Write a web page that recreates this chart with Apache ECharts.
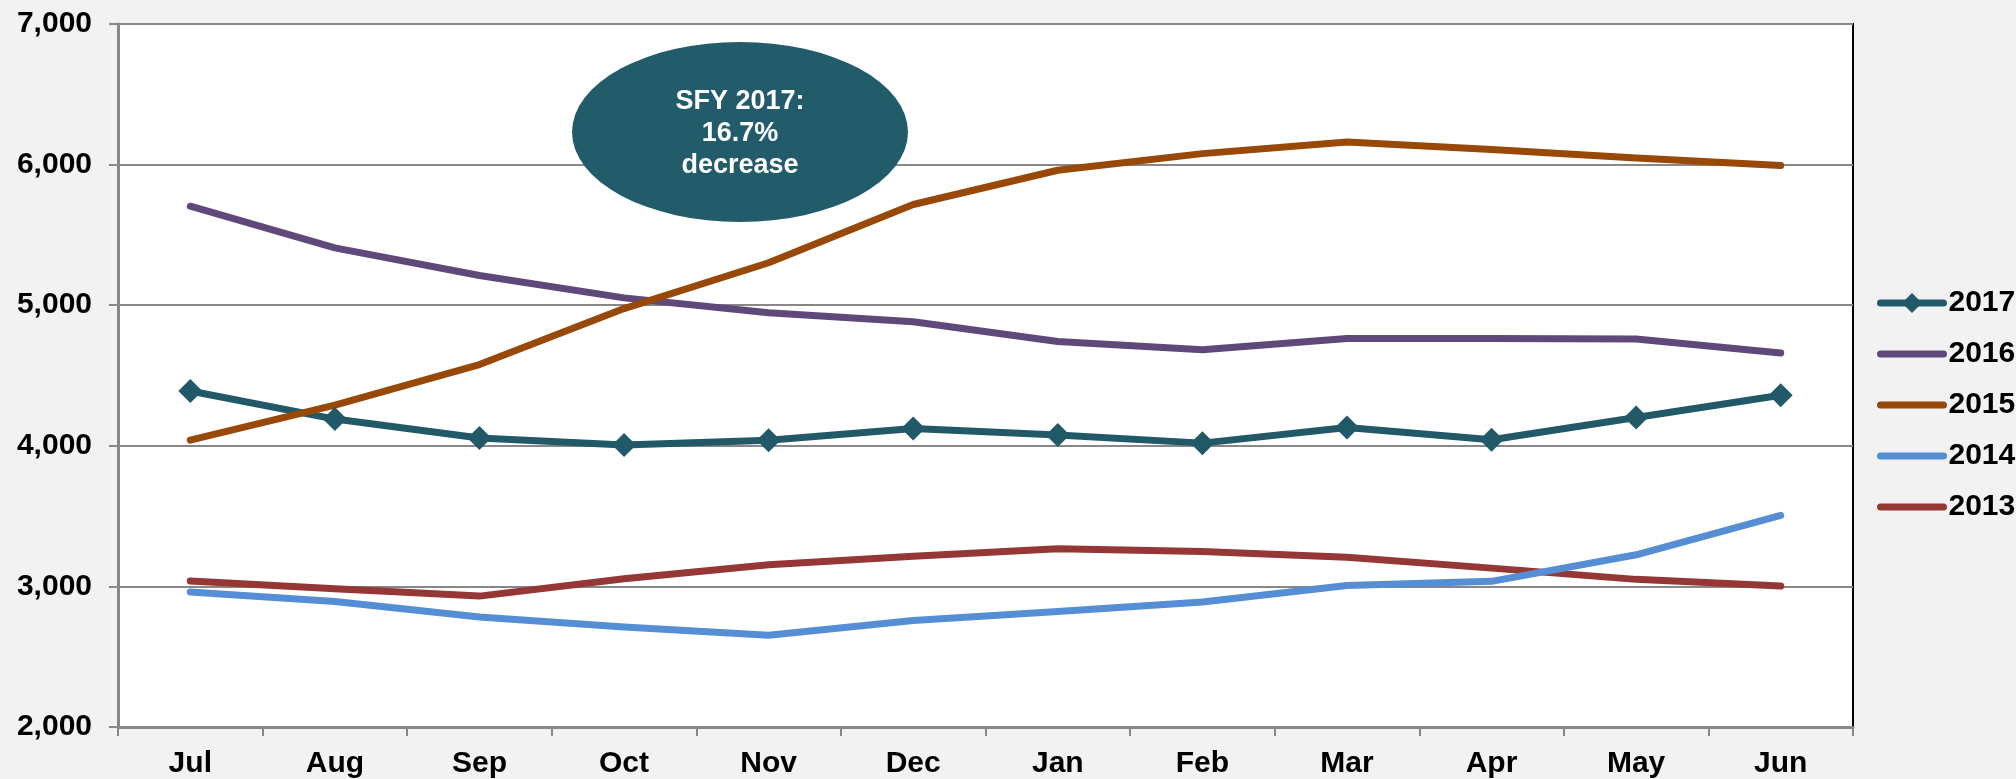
<!DOCTYPE html>
<html>
<head>
<meta charset="utf-8">
<script src="https://cdn.jsdelivr.net/npm/echarts@6/dist/echarts.min.js"></script>
<style>
html,body{margin:0;padding:0;background:#f2f2f2;}
#c{width:2016px;height:779px;}
</style>
</head>
<body>
<div id="c"></div>
<script>
var categories = ['Jul','Aug','Sep','Oct','Nov','Dec','Jan','Feb','Mar','Apr','May','Jun'];
var s2017 = [4390, 4190, 4055, 4005, 4040, 4123, 4076, 4019, 4130, 4043, 4201, 4359];
var s2016 = [5704, 5408, 5211, 5052, 4946, 4882, 4742, 4683, 4763, 4763, 4759, 4660];
var s2015 = [4040, 4289, 4578, 4976, 5302, 5716, 5960, 6078, 6161, 6107, 6047, 5993];
var s2014 = [2960, 2893, 2782, 2711, 2652, 2757, 2822, 2889, 3007, 3036, 3225, 3505];
var s2013 = [3038, 2983, 2931, 3054, 3154, 3215, 3267, 3249, 3208, 3130, 3050, 3002];
var legendOrder = ['2017','2016','2015','2014','2013'];
var yTicks = {min: 2000, max: 7000, interval: 1000};
var note = ['SFY 2017:', '16.7%', 'decrease'];

var FONT = '"Liberation Sans", Arial, sans-serif';
function lineSeries(name, data, color, diamond) {
  return {
    name: name, type: 'line', data: data,
    symbol: diamond ? 'diamond' : 'none',
    symbolSize: diamond ? 24 : 0,
    showSymbol: !!diamond,
    itemStyle: {color: color},
    lineStyle: {color: color, width: 7, cap: 'round', join: 'round'},
    emphasis: {disabled: true},
    animation: false
  };
}
var legendData = legendOrder.map(function (n) {
  return n === '2017' ? {name: n} : {name: n, itemStyle: {opacity: 0}};
});
var chart = echarts.init(document.getElementById('c'), null, {renderer: 'canvas'});
chart.setOption({
  backgroundColor: '#f2f2f2',
  animation: false,
  grid: {left: 118, right: 163, top: 24, bottom: 51, show: true,
         backgroundColor: '#ffffff', borderColor: '#000000', borderWidth: 2,
         containLabel: false},
  legend: {
    orient: 'vertical', left: 1877, top: 288, padding: 0,
    data: legendData,
    itemWidth: 63, itemHeight: 25, itemGap: 21,
    lineStyle: {width: 'inherit'},
    textStyle: {fontFamily: FONT, fontWeight: 'bold', fontSize: 30, color: '#000', lineHeight: 30},
    selectedMode: false
  },
  xAxis: {
    type: 'category', data: categories, boundaryGap: true,
    axisLine: {show: true, lineStyle: {color: '#888888', width: 3}},
    axisTick: {show: true, inside: false, length: 9, lineStyle: {color: '#888888', width: 2}},
    axisLabel: {fontFamily: FONT, fontWeight: 'bold', fontSize: 30, color: '#000', margin: 22},
    splitLine: {show: false}
  },
  yAxis: {
    type: 'value', min: yTicks.min, max: yTicks.max, interval: yTicks.interval,
    axisLine: {show: true, lineStyle: {color: '#888888', width: 3}},
    axisTick: {show: true, inside: false, length: 9, lineStyle: {color: '#888888', width: 2}},
    axisLabel: {fontFamily: FONT, fontWeight: 'bold', fontSize: 30, color: '#000', margin: 26,
                formatter: function(v){ return v.toLocaleString('en-US'); }},
    splitLine: {show: true, lineStyle: {color: '#888888', width: 2}}
  },
  series: [
    lineSeries('2013', s2013, '#953735', false),
    lineSeries('2016', s2016, '#5f497a', false),
    lineSeries('2017', s2017, '#215968', true),
    lineSeries('2014', s2014, '#558ed5', false),
    lineSeries('2015', s2015, '#984807', false)
  ]
});
chart.setOption({
  graphic: [
    {type: 'circle', x: 740, y: 132, scaleX: 168/90, scaleY: 1, z: 100,
     shape: {cx: 0, cy: 0, r: 90}, style: {fill: '#225b6a'}},
    {type: 'text', x: 740, y: 134, z: 101,
     style: {text: note.join('\n'), fill: '#ffffff', fontFamily: FONT, fontWeight: 'bold', fontSize: 27,
             align: 'center', verticalAlign: 'middle', lineHeight: 32}}
  ]
});
</script>
</body>
</html>
